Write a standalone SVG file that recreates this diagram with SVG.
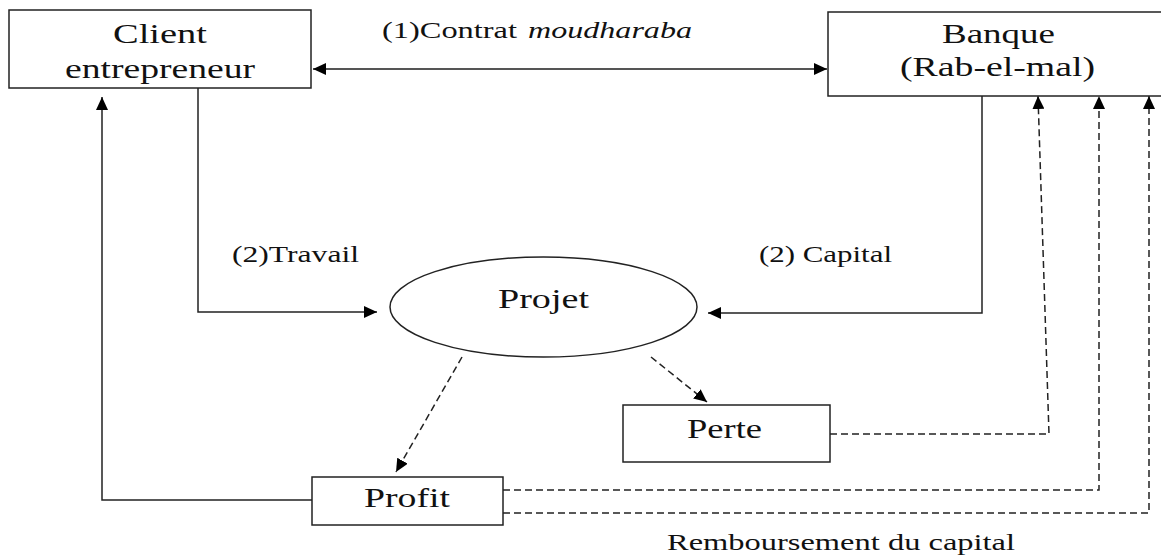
<svg xmlns="http://www.w3.org/2000/svg" width="1161" height="556" viewBox="0 0 1161 556">
<style>
.box{fill:#fff;stroke:#222;stroke-width:1.5}
.t{font-family:"Liberation Serif","Times New Roman",serif;font-size:27px;fill:#111}
.l{font-family:"Liberation Serif","Times New Roman",serif;font-size:23px;fill:#111}
.c{fill:none;stroke:#222;stroke-width:1.5}
.d{fill:none;stroke:#222;stroke-width:1.5;stroke-dasharray:7 4}
</style>
<defs>
<marker id="ah" markerUnits="userSpaceOnUse" markerWidth="13" markerHeight="12" viewBox="0 0 13 12" refX="13" refY="6" orient="auto-start-reverse">
<path d="M0,0 L13,6 L0,12 z" fill="#000"/>
</marker>
</defs>
<rect width="1161" height="556" fill="#fff"/>
<g id="connectors">
<line x1="313" y1="69" x2="827" y2="69" stroke="#555" stroke-width="2" marker-start="url(#ah)" marker-end="url(#ah)"/>
<path class="c" d="M198,88 V312 H377" marker-end="url(#ah)"/>
<path class="c" d="M982,96 V313 H708" marker-end="url(#ah)"/>
<path class="d" d="M462,357 L396,472" marker-end="url(#ah)"/>
<path class="d" d="M651,357 L707,402" marker-end="url(#ah)"/>
<path class="c" d="M312,500 H102 V97" marker-end="url(#ah)"/>
<path class="d" d="M830,434 H1049 L1038,96" marker-end="url(#ah)"/>
<path class="d" d="M503,490 H1099 V96" marker-end="url(#ah)"/>
<path class="d" d="M503,513 H1149 V96" marker-end="url(#ah)"/>
<text class="l" x="382" y="38" textLength="135" lengthAdjust="spacingAndGlyphs">(1)Contrat</text>
<text class="l" x="528" y="38" textLength="164" lengthAdjust="spacingAndGlyphs" font-style="italic">moudharaba</text>
<text class="l" x="232" y="262" textLength="127" lengthAdjust="spacingAndGlyphs">(2)Travail</text>
<text class="l" x="759" y="262" textLength="133" lengthAdjust="spacingAndGlyphs">(2) Capital</text>
<text class="l" x="667" y="550" textLength="348" lengthAdjust="spacingAndGlyphs">Remboursement du capital</text>
</g>
<g id="client">
<rect class="box" x="9" y="10" width="302" height="78"/>
<text class="t" x="113" y="43" textLength="94" lengthAdjust="spacingAndGlyphs">Client</text>
<text class="t" x="65" y="78" textLength="190" lengthAdjust="spacingAndGlyphs">entrepreneur</text>
</g>
<g id="banque">
<rect class="box" x="828" y="12" width="340" height="84"/>
<text class="t" x="942" y="43" textLength="113" lengthAdjust="spacingAndGlyphs">Banque</text>
<text class="t" x="900" y="76" textLength="195" lengthAdjust="spacingAndGlyphs">(Rab-el-mal)</text>
</g>
<g id="projet">
<ellipse class="box" cx="543.5" cy="307" rx="153.5" ry="50"/>
<text class="t" x="498" y="308" textLength="91" lengthAdjust="spacingAndGlyphs">Projet</text>
</g>
<g id="perte">
<rect class="box" x="623" y="405" width="207" height="57"/>
<text class="t" x="687" y="438" textLength="75" lengthAdjust="spacingAndGlyphs">Perte</text>
</g>
<g id="profit">
<rect class="box" x="312" y="477" width="191" height="48"/>
<text class="t" x="364" y="507" textLength="86" lengthAdjust="spacingAndGlyphs">Profit</text>
</g>
</svg>
